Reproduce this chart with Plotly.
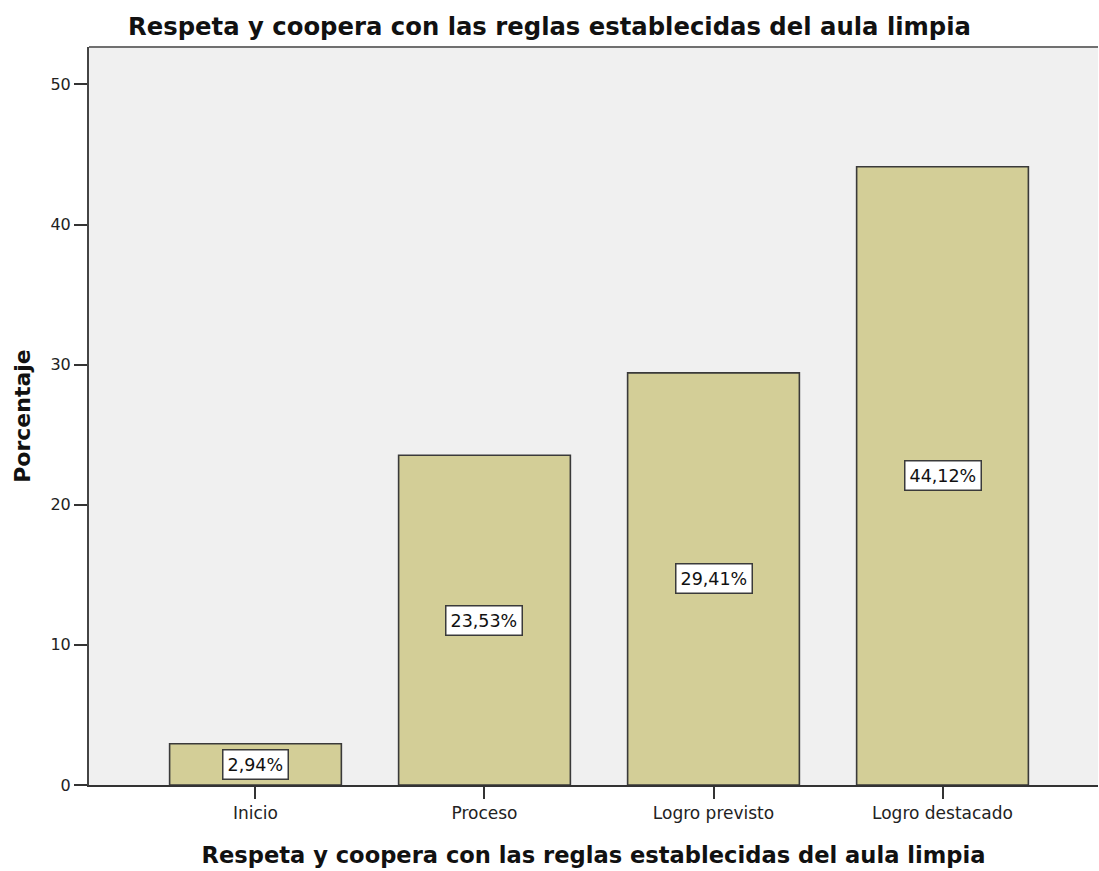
import plotly.graph_objects as go

# datos
categorias = ['Inicio', 'Proceso', 'Logro previsto', 'Logro destacado']
porcentajes = [2.94, 23.53, 29.41, 44.12]
etiquetas = ['2,94%', '23,53%', '29,41%', '44,12%']

titulo = 'Respeta y coopera con las reglas establecidas del aula limpia'

fig = go.Figure()
fig.add_trace(go.Bar(
    x=categorias, y=porcentajes, width=0.75,
    marker=dict(color='#D3CE97', line=dict(color='#3A3A3A', width=1.6)),
    hoverinfo='skip', showlegend=False
))

# etiquetas en el centro de cada barra
for cat, val, txt in zip(categorias, porcentajes, etiquetas):
    fig.add_annotation(
        x=cat, y=val / 2, text=txt, showarrow=False,
        font=dict(family='DejaVu Sans', size=17.5, color='#111111'),
        bgcolor='white', bordercolor='#3A3A3A', borderwidth=1.5, borderpad=4
    )

# marco superior del area del grafico
fig.add_shape(type='line', xref='paper', yref='paper', x0=0, x1=1, y0=1, y1=1,
              line=dict(color='#707070', width=2))

fig.update_layout(
    width=1099, height=871,
    title=dict(text=titulo, x=0.5, xanchor='center', y=1 - 26 / 871, yanchor='middle',
               yref='container',
               font=dict(family='DejaVu Sans', size=24.3, color='#111111', weight='bold')),
    plot_bgcolor='#F0F0F0', paper_bgcolor='white',
    margin=dict(l=89, r=1, t=47, b=86),
    font=dict(family='DejaVu Sans', color='#222222'),
    xaxis=dict(
        type='category', range=[-0.727, 3.679],
        showline=True, linecolor='#333333', linewidth=2,
        ticks='outside', ticklen=12, tickcolor='#333333', tickwidth=1.5,
        tickfont=dict(size=17, color='#222222'),
        showgrid=False, zeroline=False,
        title=dict(text=titulo, standoff=25,
                   font=dict(family='DejaVu Sans', size=22.6, color='#111111', weight='bold'))
    ),
    yaxis=dict(
        range=[0, 52.67], tickvals=[0, 10, 20, 30, 40, 50],
        showline=True, linecolor='#444444', linewidth=2,
        ticks='outside', ticklen=13, tickcolor='#333333', tickwidth=1.5,
        tickfont=dict(size=16, color='#222222'),
        showgrid=False, zeroline=False,
        title=dict(text='Porcentaje', standoff=14,
                   font=dict(family='DejaVu Sans', size=22, color='#111111', weight='bold'))
    ),
)

fig.write_html('out.html', config={'displayModeBar': False},
               post_script="document.body.style.margin='0';")
